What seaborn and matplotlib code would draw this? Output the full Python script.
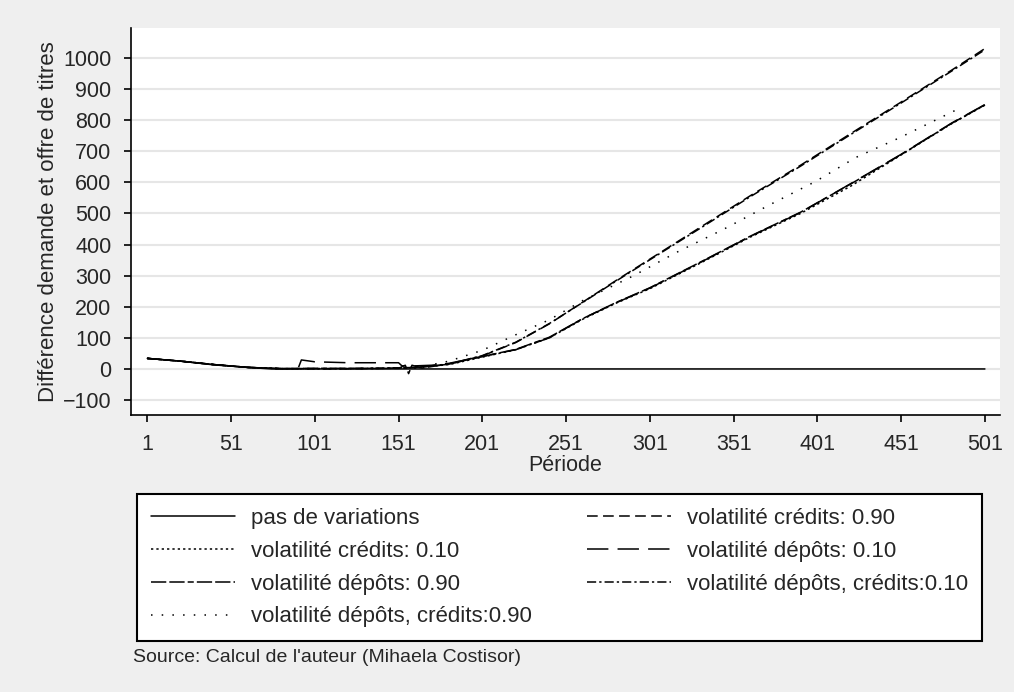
import matplotlib
matplotlib.use("Agg")
import matplotlib.pyplot as plt
import seaborn as sns
import pandas as pd

sns.set_style("white")
plt.rcParams['font.family'] = ['Liberation Sans', 'DejaVu Sans']

# --- values ---
names = ["pas de variations",
         "volatilité crédits: 0.90",
         "volatilité crédits: 0.10",
         "volatilité dépôts: 0.10",
         "volatilité dépôts: 0.90",
         "volatilité dépôts, crédits:0.10",
         "volatilité dépôts, crédits:0.90"]

t_base = [1, 21, 41, 61, 75, 501]
v_base = [34, 25, 13, 5, 0, 0]

t_cred90 = [1, 21, 41, 61, 81, 101, 121, 141, 161, 181, 201, 221, 241, 261, 281, 301, 331, 361, 391, 421, 451, 481, 501]
v_cred90 = [34, 25, 14, 5, 1, 1, 1, 2, 5, 15, 42, 85, 145, 215, 285, 353, 455, 557, 655, 757, 858, 960, 1030]

t_cred10 = [1, 21, 41, 61, 81, 101, 121, 141, 161, 181, 201, 221, 241, 261, 281, 301, 331, 361, 391, 421, 451, 481, 501]
v_cred10 = [34, 25, 14, 5, 1, 1, 1, 2, 4, 14, 38, 62, 100, 160, 212, 258, 340, 424, 500, 588, 688, 788, 848]

t_dep10 = [1, 21, 41, 61, 81, 91, 93, 101, 121, 141, 151, 153, 161, 171, 181, 201, 221, 241, 261, 281, 301, 331, 361, 391, 421, 451, 481, 501]
v_dep10 = [34, 25, 14, 5, 1, 1, 29, 23, 20, 20, 20, 10, 10, 12, 18, 40, 62, 100, 162, 213, 260, 342, 426, 503, 596, 690, 790, 850]

t_dep90 = [1, 21, 41, 61, 81, 101, 121, 141, 151, 155, 157, 159, 165, 181, 201, 221, 241, 261, 281, 301, 331, 361, 391, 421, 451, 481, 501]
v_dep90 = [34, 25, 14, 5, 1, 2, 2, 2, 2, 12, -15, 12, 3, 16, 40, 63, 102, 162, 214, 261, 343, 427, 504, 595, 689, 789, 849]

t_dc10 = [1, 21, 41, 61, 81, 101, 121, 141, 161, 181, 201, 221, 241, 261, 281, 301, 331, 361, 391, 421, 451, 481, 501]
v_dc10 = [34, 25, 14, 5, 1, 1, 1, 2, 5, 16, 43, 86, 146, 214, 283, 351, 452, 554, 652, 754, 855, 957, 1026]

t_dc90 = [1, 21, 41, 61, 81, 101, 121, 141, 161, 181, 201, 221, 241, 261, 291, 317, 345, 373, 400, 424, 450, 484]
v_dc90 = [34, 25, 14, 5, 1, 1, 1, 2, 3, 25, 60, 110, 158, 220, 299, 375, 449, 529, 603, 680, 743, 833]

periods = [t_base, t_cred90, t_cred10, t_dep10, t_dep90, t_dc10, t_dc90]
values = [v_base, v_cred90, v_cred10, v_dep10, v_dep90, v_dc10, v_dc90]

frames = [pd.DataFrame({"Période": t, "valeur": v, "série": n})
          for n, t, v in zip(names, periods, values)]
df = pd.concat(frames, ignore_index=True)

dash_map = {
    names[0]: "",
    names[1]: (7, 3.5),
    names[2]: (1.5, 2),
    names[3]: (14, 6),
    names[4]: (10, 2, 10, 2, 4, 2),
    names[5]: (6, 2, 1.5, 2),
    names[6]: (1, 6),
}

fig = plt.figure(figsize=(10.14, 6.92), dpi=100)
fig.patch.set_facecolor("#efefef")
ax = fig.add_axes([131 / 1014, 1 - 415 / 692, 869 / 1014, 387 / 692])
ax.set_facecolor("white")

sns.lineplot(data=df, x="Période", y="valeur", style="série", style_order=names,
             dashes=dash_map, color="black", linewidth=1.1, estimator=None,
             sort=False, ax=ax)

ax.set_xlim(-8.7, 510)
ax.set_ylim(-148, 1096)
ax.set_xticks([1, 51, 101, 151, 201, 251, 301, 351, 401, 451, 501])
ax.set_yticks(list(range(-100, 1001, 100)))
ax.yaxis.grid(True, color="#e6e6e6", linewidth=1.5)
ax.xaxis.grid(False)
for s in ["top", "right"]:
    ax.spines[s].set_visible(False)
for s in ["left", "bottom"]:
    ax.spines[s].set_color("black")
    ax.spines[s].set_linewidth(1.2)
ax.tick_params(axis="both", direction="out", length=5, width=1.2, color="black",
               labelsize=15.5, left=True, bottom=True)
ax.tick_params(axis="y", pad=9)
ax.tick_params(axis="x", pad=9)
ax.set_xlabel("Période", fontsize=15.5, labelpad=0)
ax.set_ylabel("Différence demande et offre de titres", fontsize=16, labelpad=2.5)

handles, labels = ax.get_legend_handles_labels()
hmap = {l: h for h, l in zip(handles, labels) if l in names}
ax.get_legend().remove()
order = [names[0], names[2], names[4], names[6], names[1], names[3], names[5]]
leg = fig.legend([hmap[n] for n in order], order, ncol=2, loc="upper left",
                 bbox_to_anchor=(137 / 1014, 1 - 494 / 692 - 0.01, 845 / 1014, 0.01),
                 mode="expand", frameon=True, fancybox=False, edgecolor="black",
                 framealpha=1, fontsize=16, handlelength=3.8, labelspacing=0.53,
                 borderaxespad=0, borderpad=0.63, handletextpad=0.7)
leg.get_frame().set_linewidth(1.5)
leg.get_frame().set_facecolor("white")

fig.text(133 / 1014, 1 - 658 / 692, "Source: Calcul de l'auteur (Mihaela Costisor)",
         fontsize=14, va="center")

plt.savefig("out.png", dpi=100, facecolor=fig.get_facecolor())
